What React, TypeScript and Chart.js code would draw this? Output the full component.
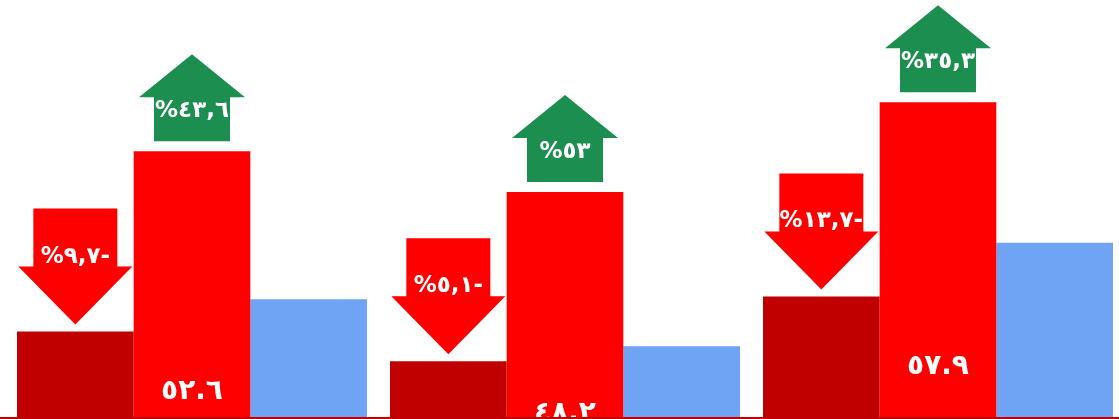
import React, { useEffect, useRef } from "react";
import { Chart, registerables } from "chart.js";

Chart.register(...registerables);

const categories = ["A", "B", "C"];
const previousValues = [33.1, 29.9, 36.9];
const currentValues = [52.6, 48.2, 57.9];
const baseValues = [36.6, 31.5, 42.7];
const currentValueLabels = ["٥٢.٦", "٤٨.٢", "٥٧.٩"];
const downChangeLabels = ["%٩,٧-", "%٥,١-", "%١٣,٧-"];
const upChangeLabels = ["%٤٣,٦", "%٥٣", "%٣٥,٣"];
const valueLabelLift = [23, 1, 48];

const DARK_RED = "#c00000";
const RED = "#ff0000";
const BLUE = "#6fa4f5";
const GREEN = "#1b8e50";

const arrowsPlugin = {
  id: "arrowsPlugin",
  afterDatasetsDraw(chart: any) {
    const ctx = chart.ctx as CanvasRenderingContext2D;
    const area = chart.chartArea;
    const darkMeta = chart.getDatasetMeta(0);
    const redMeta = chart.getDatasetMeta(1);

    ctx.save();
    ctx.strokeStyle = DARK_RED;
    ctx.lineWidth = 2;
    ctx.beginPath();
    ctx.moveTo(0, area.bottom + 1);
    ctx.lineTo(chart.width, area.bottom + 1);
    ctx.stroke();

    ctx.textAlign = "center";
    ctx.textBaseline = "middle";
    ctx.direction = "ltr";

    categories.forEach((_, i) => {
      const d = darkMeta.data[i];
      const dx = d.x;
      const tip = d.y - 7;
      const top = tip - 116;
      const headBase = top + 58;
      ctx.fillStyle = RED;
      ctx.beginPath();
      ctx.moveTo(dx - 42, top);
      ctx.lineTo(dx + 42, top);
      ctx.lineTo(dx + 42, headBase);
      ctx.lineTo(dx + 57, headBase);
      ctx.lineTo(dx, tip);
      ctx.lineTo(dx - 57, headBase);
      ctx.lineTo(dx - 42, headBase);
      ctx.closePath();
      ctx.fill();
      ctx.fillStyle = "#ffffff";
      ctx.font = "bold 23px 'DejaVu Sans'";
      ctx.fillText(downChangeLabels[i], dx, top + 48);

      const r = redMeta.data[i];
      const rx = r.x;
      const bottom = r.y - 10;
      const utip = bottom - 87;
      const uHead = utip + 43;
      ctx.fillStyle = GREEN;
      ctx.beginPath();
      ctx.moveTo(rx, utip);
      ctx.lineTo(rx + 53, uHead);
      ctx.lineTo(rx + 38, uHead);
      ctx.lineTo(rx + 38, bottom);
      ctx.lineTo(rx - 38, bottom);
      ctx.lineTo(rx - 38, uHead);
      ctx.lineTo(rx - 53, uHead);
      ctx.closePath();
      ctx.fill();
      ctx.fillStyle = "#ffffff";
      ctx.font = "bold 23px 'DejaVu Sans'";
      ctx.fillText(upChangeLabels[i], rx, utip + 57);

      ctx.save();
      ctx.beginPath();
      ctx.rect(area.left, area.top, area.right - area.left, area.bottom - area.top);
      ctx.clip();
      ctx.font = "bold 28px 'DejaVu Sans'";
      ctx.fillText(currentValueLabels[i], rx, area.bottom - valueLabelLift[i] - 2);
      ctx.restore();
    });
    ctx.restore();
  },
};

export default function App() {
  const canvasRef = useRef<HTMLCanvasElement | null>(null);

  useEffect(() => {
    if (!canvasRef.current) return;
    const chart = new Chart(canvasRef.current, {
      type: "bar",
      data: {
        labels: categories,
        datasets: [
          { data: previousValues, backgroundColor: DARK_RED, borderWidth: 0 },
          { data: currentValues, backgroundColor: RED, borderWidth: 0 },
          { data: baseValues, backgroundColor: BLUE, borderWidth: 0 },
        ],
      },
      options: {
        animation: false,
        responsive: true,
        maintainAspectRatio: false,
        layout: { padding: { left: 5.5, right: 0.5, top: 0, bottom: 2 } },
        datasets: {
          bar: { barPercentage: 1, categoryPercentage: 0.9383 },
        },
        plugins: {
          legend: { display: false },
          tooltip: { enabled: false },
        },
        scales: {
          x: { display: false },
          y: { display: false, min: 23.86, max: 68.96 },
        },
      },
      plugins: [arrowsPlugin],
    });
    return () => chart.destroy();
  }, []);

  return (
    <div
      style={{
        position: "fixed",
        left: 0,
        top: 0,
        width: 1119,
        height: 419,
        overflow: "hidden",
        background: "#ffffff",
      }}
    >
      <div style={{ position: "absolute", left: 0, top: 0, width: 1125, height: 419 }}>
        <canvas ref={canvasRef} />
      </div>
    </div>
  );
}
